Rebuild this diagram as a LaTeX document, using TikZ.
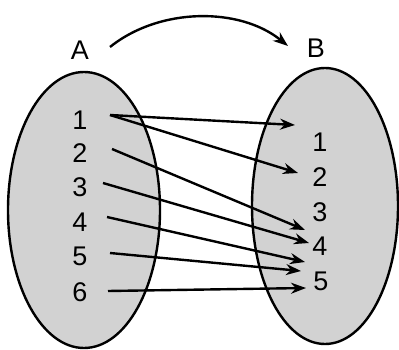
\documentclass[tikz,border=0pt]{standalone}
\usepackage{fontspec}
\setmainfont{Liberation Sans}
\usetikzlibrary{arrows.meta}
\begin{document}
\begin{tikzpicture}[x=1pt,y=-1pt,
  setbox/.style={draw=black,line width=2.4pt,fill=gray!35},
  lbl/.style={font=\fontsize{27}{27}\selectfont,inner sep=0pt},
  maparrow/.style={line width=2.4pt,-{Stealth[length=15pt,width=11pt]}}]
\useasboundingbox (0,0) rectangle (399,350);
\fill[white] (0,0) rectangle (399,350);
\draw[setbox] (84,210) ellipse [x radius=76, y radius=138];
\draw[setbox] (325,206) ellipse [x radius=73, y radius=138];
\node[lbl] (A) at (80,50) {A};
\node[lbl] (B) at (316,48) {B};
\node[lbl] (a1) at (80,120) {1};
\node[lbl] (a2) at (80,153) {2};
\node[lbl] (a3) at (80,187) {3};
\node[lbl] (a4) at (80,222) {4};
\node[lbl] (a5) at (80,256) {5};
\node[lbl] (a6) at (80,292) {6};
\node[lbl] (b1) at (320,142) {1};
\node[lbl] (b2) at (320,177) {2};
\node[lbl] (b3) at (320,212) {3};
\node[lbl] (b4) at (320,246) {4};
\node[lbl] (b5) at (321,281) {5};
\coordinate (ca) at (110,47);
\coordinate (cb) at (288,46);
\draw[maparrow] (ca) .. controls (160,7) and (240,7) .. (cb);
\coordinate (s1) at (110,115);
\coordinate (s2) at (112,149);
\coordinate (s3) at (103,183);
\coordinate (s4) at (107,217);
\coordinate (s5) at (110,253);
\coordinate (s6) at (108,291);
\coordinate (e1) at (295,125);
\coordinate (e2) at (298,173);
\coordinate (e3) at (305,230);
\coordinate (e4) at (309,243);
\coordinate (e5) at (305,262);
\coordinate (e6) at (301,271);
\coordinate (e7) at (306,288);
\draw[maparrow] (s1) -- (e1);
\draw[maparrow] (s1) -- (e2);
\draw[maparrow] (s2) -- (e3);
\draw[maparrow] (s3) -- (e4);
\draw[maparrow] (s4) -- (e5);
\draw[maparrow] (s5) -- (e6);
\draw[maparrow] (s6) -- (e7);
\end{tikzpicture}
\end{document}
